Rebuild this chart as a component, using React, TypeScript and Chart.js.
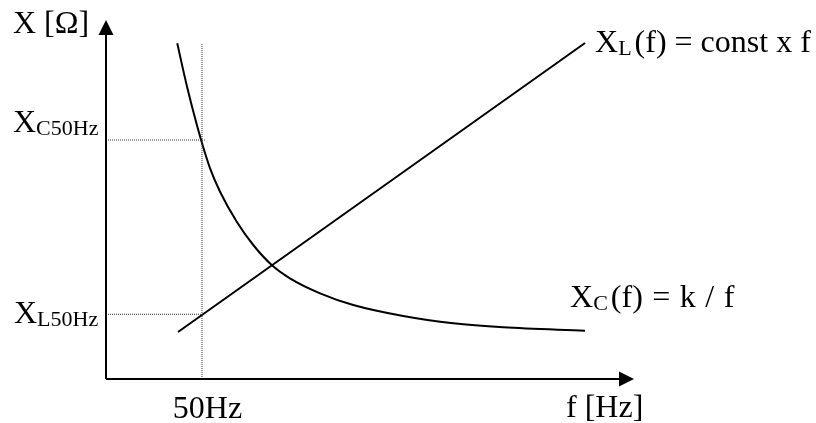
import React, { useEffect, useRef } from "react";
import { Chart, registerables } from "chart.js";

Chart.register(...registerables);

// Capacitive reactance X_C(f) = k / f (arbitrary units)
const capFreq = [37.1, 42.0, 46.4, 49.8, 54.2, 59.4, 68.1, 76.7, 86.3, 95.8, 111.5, 128.8, 154.8, 180.9, 206.9, 249.5];
const capReact = [335.7, 294, 260.7, 237.3, 210.7, 187.3, 157.3, 134, 114, 100.7, 85.7, 74, 63, 55.7, 51.7, 48.3];

// Inductive reactance X_L(f) = const x f
const indFreq = [37.5, 249.5];
const indReact = [47, 336];

// Reference markers
const refFreq = 50;
const xc50 = 239;
const xl50 = 64.7;
const refTop = 336;

const xMax = 275;
const yMax = 359;

const FONT = '"Liberation Serif", "Times New Roman", serif';

type Part = { t: string; sub?: boolean; gap?: number };

function drawRich(
  ctx: CanvasRenderingContext2D,
  parts: Part[],
  x: number,
  y: number,
  align: "left" | "center" = "left",
  wordSpacing = 0
) {
  const main = 32;
  const sub = 22;
  const c: any = ctx;
  c.wordSpacing = `${wordSpacing}px`;
  let total = 0;
  for (const p of parts) {
    ctx.font = `${p.sub ? sub : main}px ${FONT}`;
    total += ctx.measureText(p.t).width + (p.gap || 0);
  }
  let cx = align === "center" ? x - total / 2 : x;
  ctx.textAlign = "left";
  ctx.textBaseline = "alphabetic";
  for (const p of parts) {
    ctx.font = `${p.sub ? sub : main}px ${FONT}`;
    ctx.fillText(p.t, cx, p.sub ? y + 3 : y);
    cx += ctx.measureText(p.t).width + (p.gap || 0);
  }
  c.wordSpacing = "0px";
}

const decorPlugin = {
  id: "decor",
  afterDatasetsDraw(chart: any) {
    const ctx: CanvasRenderingContext2D = chart.ctx;
    const xs = chart.scales.x;
    const ys = chart.scales.y;
    const x0 = xs.getPixelForValue(0);
    const y0 = ys.getPixelForValue(0);
    const xEnd = xs.getPixelForValue(xMax);
    const yEnd = ys.getPixelForValue(yMax);
    const ah = 15;
    const aw = 7.5;
    ctx.save();
    ctx.strokeStyle = "#000";
    ctx.fillStyle = "#000";
    ctx.lineWidth = 2;
    // axes
    ctx.beginPath();
    ctx.moveTo(x0, y0);
    ctx.lineTo(x0, yEnd + ah);
    ctx.moveTo(x0, y0);
    ctx.lineTo(xEnd - ah, y0);
    ctx.stroke();
    // arrowheads
    ctx.beginPath();
    ctx.moveTo(x0, yEnd);
    ctx.lineTo(x0 - aw, yEnd + ah);
    ctx.lineTo(x0 + aw, yEnd + ah);
    ctx.closePath();
    ctx.fill();
    ctx.beginPath();
    ctx.moveTo(xEnd, y0);
    ctx.lineTo(xEnd - ah, y0 - aw);
    ctx.lineTo(xEnd - ah, y0 + aw);
    ctx.closePath();
    ctx.fill();

    // labels
    drawRich(ctx, [{ t: "X [Ω]" }], 13, 33);
    drawRich(ctx, [{ t: "X" }, { t: "C50Hz", sub: true }], 13, ys.getPixelForValue(xc50) - 8);
    drawRich(ctx, [{ t: "X" }, { t: "L50Hz", sub: true }], 14, ys.getPixelForValue(xl50) + 8.5);
    drawRich(ctx, [{ t: "50Hz" }], xs.getPixelForValue(refFreq) + 5.5, y0 + 39, "center");
    drawRich(ctx, [{ t: "f [Hz]" }], 566, y0 + 38);
    const lx = xs.getPixelForValue(indFreq[indFreq.length - 1]);
    const ly = ys.getPixelForValue(indReact[indReact.length - 1]);
    drawRich(ctx, [{ t: "X" }, { t: "L", sub: true, gap: 3 }, { t: "(f) = const x f" }], lx + 10, ly + 9);
    const cxp = xs.getPixelForValue(capFreq[capFreq.length - 1]);
    const cyp = ys.getPixelForValue(capReact[capReact.length - 1]);
    drawRich(ctx, [{ t: "X" }, { t: "C", sub: true, gap: 3 }, { t: "(f) = k / f" }], cxp - 15, cyp - 24, "left", 1.5);
    ctx.restore();
  },
};

export default function App() {
  const ref = useRef<HTMLCanvasElement | null>(null);
  useEffect(() => {
    document.body.style.margin = "0";
    if (!ref.current) return;
    const dotted = { borderColor: "#333", borderWidth: 1, borderDash: [1, 1], pointRadius: 0, fill: false };
    const chart = new Chart(ref.current, {
      type: "line",
      data: {
        datasets: [
          { ...dotted, data: [{ x: refFreq, y: 0 }, { x: refFreq, y: refTop }] },
          { ...dotted, data: [{ x: 0, y: xc50 }, { x: refFreq + 1.5, y: xc50 }] },
          { ...dotted, data: [{ x: 0, y: xl50 }, { x: refFreq, y: xl50 }] },
          {
            data: capFreq.map((f, i) => ({ x: f, y: capReact[i] })),
            borderColor: "#000",
            borderWidth: 2,
            pointRadius: 0,
            cubicInterpolationMode: "monotone",
            fill: false,
          },
          {
            data: indFreq.map((f, i) => ({ x: f, y: indReact[i] })),
            borderColor: "#000",
            borderWidth: 2,
            pointRadius: 0,
            fill: false,
          },
        ],
      },
      options: {
        responsive: false,
        animation: false,
        events: [],
        layout: { padding: { left: 106, right: 182, top: 20, bottom: 44 } },
        plugins: { legend: { display: false }, tooltip: { enabled: false } },
        scales: {
          x: { type: "linear", min: 0, max: xMax, display: false },
          y: { type: "linear", min: 0, max: yMax, display: false },
        },
      },
      plugins: [decorPlugin],
    } as any);
    return () => chart.destroy();
  }, []);
  return (
    <div style={{ width: 816, height: 423, background: "#fff" }}>
      <canvas ref={ref} width={816} height={423} style={{ display: "block" }} />
    </div>
  );
}
